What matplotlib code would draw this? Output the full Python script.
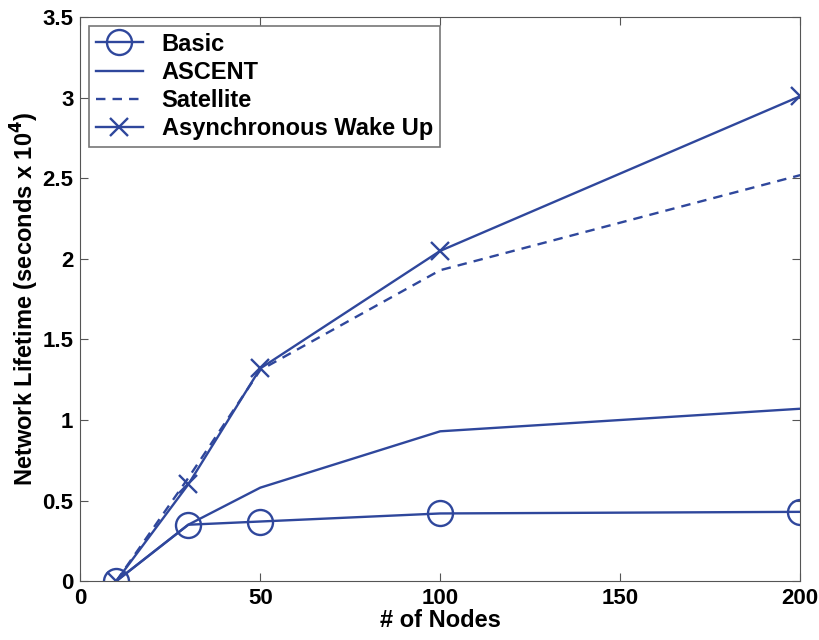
import matplotlib
matplotlib.use('Agg')
import matplotlib.pyplot as plt

nodes = [10, 30, 50, 100, 200]
basic = [0, 0.35, 0.37, 0.42, 0.43]
ascent = [0, 0.35, 0.58, 0.93, 1.07]
satellite = [0, 0.64, 1.31, 1.93, 2.52]
async_wake = [0, 0.60, 1.32, 2.05, 3.01]

col = '#2f479c'
plt.rcParams['font.family'] = ['Liberation Sans', 'DejaVu Sans']
plt.rcParams['font.weight'] = 'bold'

fig = plt.figure(figsize=(8.19, 6.4), dpi=100)
ax = fig.add_axes([0.098, 0.092, 0.879, 0.881])

ax.plot(nodes, basic, color=col, lw=1.7, marker='o', ms=18, mfc='none', mew=1.7, label='Basic')
ax.plot(nodes, ascent, color=col, lw=1.7, label='ASCENT')
ax.plot(nodes, satellite, color=col, lw=1.7, ls='--', dashes=(4, 3), label='Satellite')
ax.plot(nodes, async_wake, color=col, lw=1.7, marker='x', ms=13, mew=1.7, label='Asynchronous Wake Up')

ax.set_xlim(0, 200)
ax.set_ylim(0, 3.5)
ax.set_xticks([0, 50, 100, 150, 200])
ax.set_yticks([0, 0.5, 1, 1.5, 2, 2.5, 3, 3.5])
ax.set_yticklabels(['0', '0.5', '1', '1.5', '2', '2.5', '3', '3.5'])
ax.tick_params(direction='in', labelsize=16, top=True, right=True, length=6,
               color='#555555', pad=5)
for s in ax.spines.values():
    s.set_color('#555555')
ax.set_xlabel('# of Nodes', fontsize=17, fontweight='bold', labelpad=0)
ax.set_ylabel('Network Lifetime (seconds x 10$^4$)', fontsize=17, fontweight='bold', labelpad=1)

leg = ax.legend(loc='upper left', fontsize=17, fancybox=False, edgecolor='#555555',
                handlelength=2.0, handletextpad=0.8, borderaxespad=0.35,
                labelspacing=0.22, borderpad=0.3, markerscale=1.0)
leg.get_frame().set_linewidth(1.2)

fig.savefig('out.png', dpi=100)
